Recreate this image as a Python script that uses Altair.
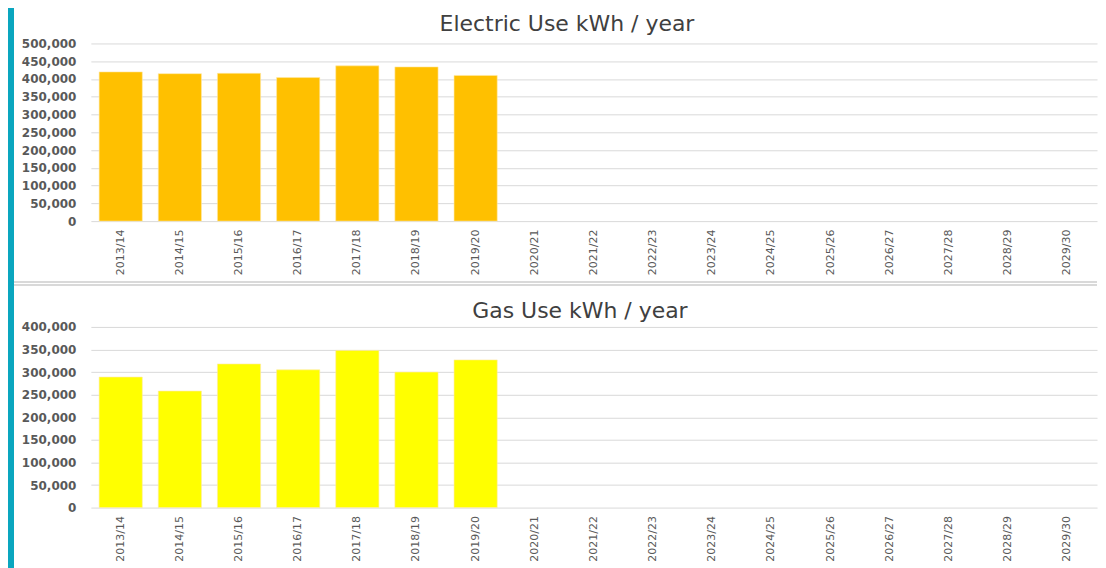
import altair as alt
import pandas as pd

years = ["2013/14", "2014/15", "2015/16", "2016/17", "2017/18", "2018/19", "2019/20",
         "2020/21", "2021/22", "2022/23", "2023/24", "2024/25", "2025/26", "2026/27",
         "2027/28", "2028/29", "2029/30"]
electric = [420000, 415000, 416000, 404000, 437000, 434000, 410000]
gas = [289000, 258000, 318000, 305000, 348000, 300000, 327000]

elec_ticks = [0, 50000, 100000, 150000, 200000, 250000, 300000, 350000, 400000, 450000, 500000]
gas_ticks = [0, 50000, 100000, 150000, 200000, 250000, 300000, 350000, 400000]

PLOT_W = 1008
TEAL = "#0aa6bf"
LABEL = "#595959"
GRID = "#d9d9d9"


def panel(values, ticks, ymax, color, title, height, title_x, title_y,
          strip_top, strip_bottom, extra_rules):
    df = pd.DataFrame({"year": years[:len(values)], "kwh": values})
    x = alt.X("year:N", sort=years,
              scale=alt.Scale(domain=years, paddingInner=0.27, paddingOuter=0.14),
              axis=alt.Axis(title=None, labelAngle=-90, labelFont="DejaVu Sans",
                            labelFontSize=11, labelColor=LABEL, labelPadding=8,
                            ticks=False, domain=False, grid=False))
    y = alt.Y("kwh:Q", scale=alt.Scale(domain=[0, ymax], nice=False),
              axis=alt.Axis(title=None, values=ticks, format=",.0f", labelFont="DejaVu Sans",
                            labelFontSize=12, labelFontWeight="bold", labelColor=LABEL,
                            labelPadding=15, ticks=False, tickSize=0, domain=False,
                            grid=True, gridColor=GRID, gridWidth=1))
    bars = alt.Chart(df).mark_bar(color=color, stroke="#ffe9a8", strokeWidth=0.6).encode(x=x, y=y)
    strip = alt.Chart(df).mark_rect(color=TEAL).encode(
        x=alt.value(-83), x2=alt.value(-77),
        y=alt.value(strip_top), y2=alt.value(strip_bottom))
    head = alt.Chart(pd.DataFrame({"t": [title]})).mark_text(
        font="DejaVu Sans", fontSize=22, color="#404040", align="center",
        baseline="alphabetic").encode(text="t:N", x=alt.value(title_x), y=alt.value(title_y))
    layers = [bars, strip, head]
    for ry in extra_rules:
        layers.append(alt.Chart(df).mark_rule(color=GRID, strokeWidth=1).encode(
            x=alt.value(-77), x2=alt.value(PLOT_W), y=alt.value(ry)))
    return alt.layer(*layers).properties(width=PLOT_W, height=height)


top = panel(electric, elec_ticks, 500000, "#FFC000", "Electric Use kWh / year", 178,
            477, -12, -35, 248, [239, 242])
bottom = panel(gas, gas_ticks, 400000, "#FFFF00", "Gas Use kWh / year", 181,
               490, -9, -36, 241, [])

chart = alt.vconcat(top, bottom, spacing=0).configure(
    padding=0, background="white"
).configure_view(stroke=None)

chart.save("out.html", embed_options={"renderer": "svg", "actions": False})
